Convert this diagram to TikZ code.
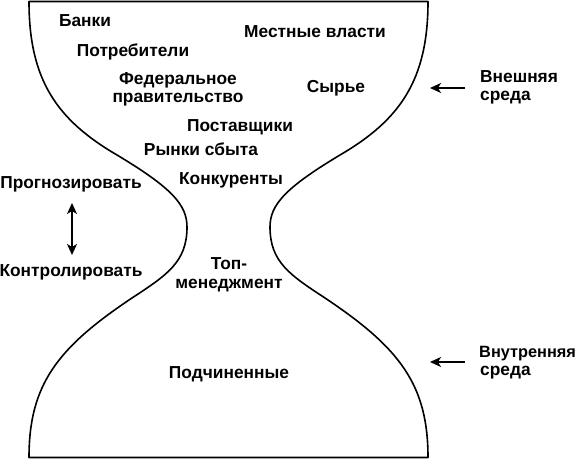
\documentclass[tikz,border=0pt]{standalone}
\usepackage{fontspec}
\setmainfont{Liberation Sans}
\usetikzlibrary{arrows.meta}
\begin{document}
\begin{tikzpicture}[x=1bp,y=-1bp,
  outline/.style={line width=1.6bp, line join=round},
  lbl/.style={font=\bfseries\fontsize{17.4}{19}\selectfont, inner sep=0pt, anchor=base},
  lblw/.style={lbl, anchor=base west},
  tip/.tip={Stealth[length=11bp,width=10bp,inset=3bp]},
  arr/.style={-tip, line width=1.6bp},
  darr/.style={tip-tip, line width=1.6bp}]
\useasboundingbox (0,0) rectangle (580,460);
% hourglass outline
\draw[outline] (29,1.5) -- (428,1.5)
  .. controls (428,80) and (400,120) .. (340,155)
  .. controls (285,188) and (270,205) .. (270,227)
  .. controls (270,262) and (290,275) .. (325,298)
  .. controls (400,348) and (428,385) .. (428,457.5)
  -- (29,457.5)
  .. controls (29,385) and (57,348) .. (132,298)
  .. controls (167,275) and (187,262) .. (187,227)
  .. controls (187,205) and (172,188) .. (117,155)
  .. controls (57,120) and (29,80) .. (29,1.5) -- cycle;
% labels inside
\node[lbl] (banki) at (85,27) {Банки};
\node[lbl] (potr) at (133,57) {Потребители};
\node[lbl] (fed1) at (178,85) {Федеральное};
\node[lbl] (fed2) at (178,103) {правительство};
\node[lbl] (post) at (240,132) {Поставщики};
\node[lbl] (rynki) at (201,156) {Рынки сбыта};
\node[lbl] (konk) at (231,185) {Конкуренты};
\node[lbl] (mest) at (315,38) {Местные власти};
\node[lbl] (syr) at (336,93) {Сырье};
\node[lbl] (top1) at (229,270) {Топ-};
\node[lbl] (top2) at (229,289) {менеджмент};
\node[lbl] (podch) at (229,378) {Подчиненные};
% left labels
\node[lbl] (prog) at (71,189) {Прогнозировать};
\node[lbl] (kontr) at (71,277) {Контролировать};
% right labels
\node[lblw] (vn1) at (480,83) {Внешняя};
\node[lblw] (vn2) at (480,101) {среда};
\node[lblw, font=\bfseries\fontsize{16.4}{19}\selectfont] (vt1) at (479,357) {Внутренняя};
\node[lblw] (vt2) at (480,375) {среда};
% arrows
\coordinate (pa) at (72,203);
\coordinate (pb) at (72,255);
\draw[darr] (pa) -- (pb);
\coordinate (ea) at (465,88);
\coordinate (eb) at (430,88);
\draw[arr] (ea) -- (eb);
\coordinate (ia) at (465,362);
\coordinate (ib) at (430,362);
\draw[arr] (ia) -- (ib);
\end{tikzpicture}
\end{document}
